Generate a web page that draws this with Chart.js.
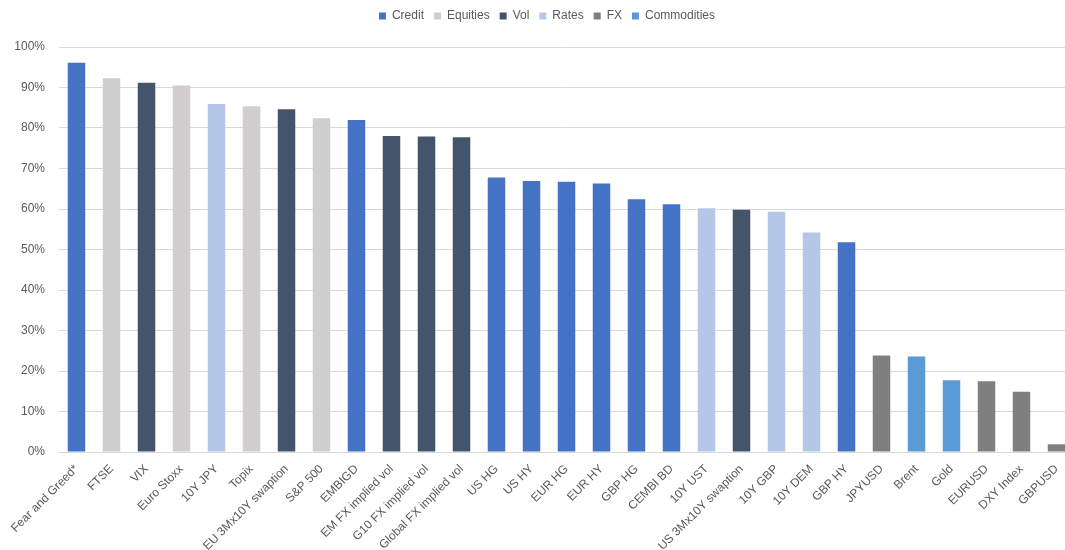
<!DOCTYPE html>
<html>
<head>
<meta charset="utf-8">
<script src="https://cdn.jsdelivr.net/npm/chart.js@4"></script>
<style>
  body { margin: 0; overflow: hidden; background: #fff; }
  #wrap { width: 1090px; height: 550px; }
</style>
</head>
<body>
<div id="wrap"><canvas id="myChart" width="1090" height="550"></canvas></div>
<script>
const categories = [
  'Fear and Greed*', 'FTSE', 'VIX', 'Euro Stoxx', '10Y JPY', 'Topix',
  'EU 3Mx10Y swaption', 'S&P 500', 'EMBIGD', 'EM FX implied vol',
  'G10 FX implied vol', 'Global FX implied vol', 'US HG', 'US HY',
  'EUR HG', 'EUR HY', 'GBP HG', 'CEMBI BD', '10Y UST', 'US 3Mx10Y swaption',
  '10Y GBP', '10Y DEM', 'GBP HY', 'JPYUSD', 'Brent', 'Gold', 'EURUSD',
  'DXY Index', 'GBPUSD'
];

// percentile
const values = [
  96.1, 92.3, 91.2, 90.5, 85.9, 85.4,
  84.6, 82.4, 82.0, 78.0,
  77.9, 77.7, 67.8, 66.9,
  66.7, 66.3, 62.4, 61.2, 60.2, 59.8,
  59.3, 54.2, 51.8, 23.8, 23.6, 17.7, 17.5,
  14.9, 1.9
];

const assetClass = [
  'Credit', 'Equities', 'Vol', 'Equities', 'Rates', 'Equities',
  'Vol', 'Equities', 'Credit', 'Vol',
  'Vol', 'Vol', 'Credit', 'Credit',
  'Credit', 'Credit', 'Credit', 'Credit', 'Rates', 'Vol',
  'Rates', 'Rates', 'Credit', 'FX', 'Commodities', 'Commodities', 'FX',
  'FX', 'FX'
];

const groups = ['Credit', 'Equities', 'Vol', 'Rates', 'FX', 'Commodities'];
const groupColors = ['#4472C4', '#D0CECE', '#44546A', '#B4C7E7', '#7F7F7F', '#5B9BD5'];

const yTicks = [0, 10, 20, 30, 40, 50, 60, 70, 80, 90, 100];

const textColor = '#595959';
const gridColor = '#D9D9D9';
Chart.defaults.font.family = "'Liberation Sans', Arial, sans-serif";
Chart.defaults.font.size = 12;
Chart.defaults.color = textColor;

// one dataset per asset class, stacked so each bar keeps its own slot
const datasets = groups.map((g, i) => ({
  label: g,
  data: values.map((v, j) => assetClass[j] === g ? v : null),
  backgroundColor: groupColors[i],
  borderWidth: 0,
  categoryPercentage: 1,
  barPercentage: 0.5
}));

// fix legend height so the plot top lands where it should, and nudge it right
const legendTweak = {
  id: 'legendTweak',
  beforeInit(chart) {
    const origFit = chart.legend.fit;
    chart.legend.fit = function () {
      origFit.bind(chart.legend)();
      this.height = 47;
    };
  },
  afterLayout(chart) {
    chart.legend.left += 10;
    chart.legend.right += 10;
  }
};

const config = {
  type: 'bar',
  data: { labels: categories, datasets: datasets },
  options: {
    responsive: false,
    animation: false,
    layout: { padding: { left: 0, right: 16, top: 0, bottom: 0 } },
    plugins: {
      legend: {
        position: 'top',
        labels: {
          boxWidth: 7,
          boxHeight: 7,
          padding: 10,
          color: textColor,
          font: { size: 12 }
        }
      },
      tooltip: { enabled: false }
    },
    scales: {
      x: {
        stacked: true,
        grid: { display: false, drawTicks: false },
        border: { display: true, color: gridColor, width: 1 },
        ticks: {
          autoSkip: false,
          minRotation: 45,
          maxRotation: 45,
          padding: 10,
          color: textColor
        },
        afterFit(scale) { scale.height = 98; }
      },
      y: {
        stacked: true,
        min: 0,
        max: 100,
        afterBuildTicks(scale) { scale.ticks = yTicks.map(v => ({ value: v })); },
        grid: { color: gridColor, lineWidth: 1, drawTicks: false },
        border: { display: false },
        ticks: {
          padding: 14,
          color: textColor,
          callback: (v) => v + '%'
        },
        afterFit(scale) { scale.width = 59; }
      }
    }
  },
  plugins: [legendTweak]
};

const myChart = new Chart(document.getElementById('myChart'), config);
</script>
</body>
</html>
